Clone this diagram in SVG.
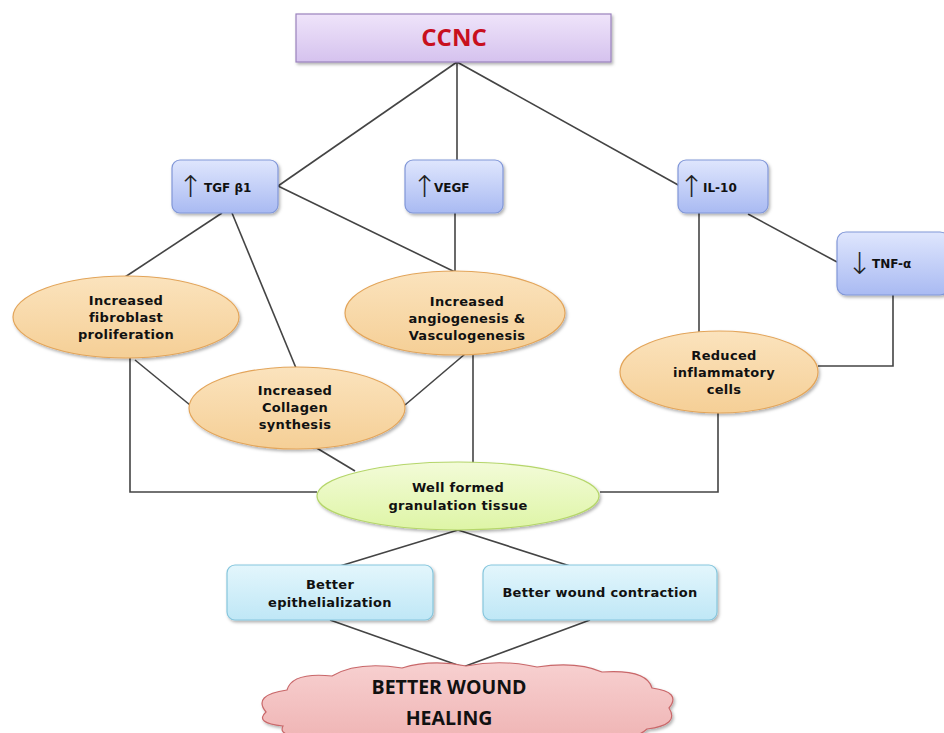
<svg xmlns="http://www.w3.org/2000/svg" width="944" height="733" viewBox="0 0 944 733">
<defs>
<linearGradient id="gPurple" x1="0" y1="0" x2="0" y2="1"><stop offset="0" stop-color="#efe4fa"/><stop offset="1" stop-color="#d5c2ee"/></linearGradient>
<linearGradient id="gBlue" x1="0" y1="0" x2="0" y2="1"><stop offset="0" stop-color="#dfe6fd"/><stop offset="1" stop-color="#a9baf2"/></linearGradient>
<linearGradient id="gOrange" x1="0" y1="0" x2="0" y2="1"><stop offset="0" stop-color="#fbe3bd"/><stop offset="1" stop-color="#f5cf96"/></linearGradient>
<linearGradient id="gGreen" x1="0" y1="0" x2="0" y2="1"><stop offset="0" stop-color="#f3fbd8"/><stop offset="1" stop-color="#def5a6"/></linearGradient>
<linearGradient id="gCyan" x1="0" y1="0" x2="0" y2="1"><stop offset="0" stop-color="#e3f6fc"/><stop offset="1" stop-color="#bfe7f6"/></linearGradient>
<linearGradient id="gPink" x1="0" y1="0" x2="0" y2="1"><stop offset="0" stop-color="#f7d0d0"/><stop offset="1" stop-color="#efb3b3"/></linearGradient>
<filter id="sh" x="-10%" y="-10%" width="130%" height="140%"><feDropShadow dx="1.5" dy="2" stdDeviation="1.5" flood-color="#000" flood-opacity="0.3"/></filter>
</defs>
<style>
.conn line, .conn polyline { stroke:#444; stroke-width:1.6; fill:none; }
.box { stroke-width:1.2; filter:url(#sh); }
.blue { fill:url(#gBlue); stroke:#8197d8; }
.orange { fill:url(#gOrange); stroke:#e3a55a; }
.t { font-family:"DejaVu Sans", Verdana, sans-serif; font-weight:bold; font-size:13px; letter-spacing:0.3px; fill:#111; text-anchor:middle; }
.tl { font-family:"DejaVu Sans", Verdana, sans-serif; font-weight:bold; font-size:12px; fill:#111; }
.arr { font-family:"DejaVu Sans", sans-serif; font-weight:200; font-size:30px; fill:#222; }
</style>
<rect width="944" height="733" fill="#ffffff"/>
<g class="conn" id="connectors">
<line x1="457" y1="62" x2="278" y2="186"/>
<line x1="457" y1="62" x2="457" y2="160"/>
<line x1="457" y1="62" x2="680" y2="186"/>
<line x1="278" y1="186" x2="455" y2="272"/>
<line x1="455" y1="213" x2="455" y2="272"/>
<line x1="222" y1="213" x2="125" y2="277"/>
<line x1="232" y1="213" x2="296" y2="368"/>
<line x1="748" y1="214" x2="837" y2="262"/>
<line x1="699" y1="213" x2="699" y2="332"/>
<polyline points="893,295 893,366 818,366"/>
<polyline points="130,358 130,492 317,492"/>
<line x1="135" y1="360" x2="190" y2="405"/>
<line x1="405" y1="405" x2="465" y2="354"/>
<line x1="315" y1="447" x2="355" y2="471"/>
<line x1="473" y1="354" x2="473" y2="463"/>
<polyline points="718,413 718,492 600,492"/>
<line x1="458" y1="530" x2="340" y2="566"/>
<line x1="458" y1="530" x2="570" y2="566"/>
<line x1="330" y1="620" x2="463" y2="667"/>
<line x1="590" y1="620" x2="463" y2="667"/>
</g>
<g id="ccnc">
<rect class="box" x="296" y="14" width="315" height="48" fill="url(#gPurple)" stroke="#9a82bd"/>
<text x="454" y="46" font-family="'Open Sans', 'DejaVu Sans', sans-serif" font-weight="bold" font-size="24" fill="#c8101e" text-anchor="middle">CCNC</text>
</g>
<g id="tgfb1">
<rect class="box blue" x="172" y="160" width="106" height="53" rx="8"/>
<text class="arr" x="178" y="197">↑</text>
<text class="tl" x="204" y="192">TGF β1</text>
</g>
<g id="vegf">
<rect class="box blue" x="405" y="160" width="98" height="53" rx="8"/>
<text class="arr" x="412" y="197">↑</text>
<text class="tl" x="434" y="192">VEGF</text>
</g>
<g id="il10">
<rect class="box blue" x="678" y="160" width="90" height="53" rx="8"/>
<text class="arr" x="679" y="197">↑</text>
<text class="tl" x="703" y="192">IL-10</text>
</g>
<g id="tnfa">
<rect class="box blue" x="837" y="232" width="112" height="63" rx="9"/>
<text class="arr" x="847" y="274">↓</text>
<text class="tl" x="872" y="268">TNF-α</text>
</g>
<g id="fibroblast">
<ellipse class="box orange" cx="126" cy="317" rx="113" ry="41"/>
<text class="t" x="126" y="305">Increased</text>
<text class="t" x="126" y="322">fibroblast</text>
<text class="t" x="126" y="339">proliferation</text>
</g>
<g id="angiogenesis">
<ellipse class="box orange" cx="455" cy="313" rx="110" ry="42"/>
<text class="t" x="467" y="306">Increased</text>
<text class="t" x="467" y="323">angiogenesis &amp;</text>
<text class="t" x="467" y="340">Vasculogenesis</text>
</g>
<g id="collagen">
<ellipse class="box orange" cx="297" cy="408" rx="108" ry="41"/>
<text class="t" x="295" y="395">Increased</text>
<text class="t" x="295" y="412">Collagen</text>
<text class="t" x="295" y="429">synthesis</text>
</g>
<g id="inflammatory">
<ellipse class="box orange" cx="719" cy="372" rx="99" ry="41"/>
<text class="t" x="724" y="360">Reduced</text>
<text class="t" x="724" y="377">inflammatory</text>
<text class="t" x="724" y="394">cells</text>
</g>
<g id="granulation">
<ellipse class="box" cx="458" cy="496" rx="141" ry="34" fill="url(#gGreen)" stroke="#b5d66a"/>
<text class="t" x="458" y="492">Well formed</text>
<text class="t" x="458" y="510">granulation tissue</text>
</g>
<g id="epithelialization">
<rect class="box" x="227" y="565" width="206" height="55" rx="8" fill="url(#gCyan)" stroke="#86c6dd"/>
<text class="t" x="330" y="589">Better</text>
<text class="t" x="330" y="607">epithelialization</text>
</g>
<g id="contraction">
<rect class="box" x="483" y="565" width="234" height="55" rx="8" fill="url(#gCyan)" stroke="#86c6dd"/>
<text class="t" x="600" y="597">Better wound contraction</text>
</g>
<g id="healing">
<path class="box" fill="url(#gPink)" stroke="#c9686a" d="M 266 712 Q 252 695 287 690 Q 292 672 332 676 Q 357 661 402 668 Q 432 659 466 666 Q 502 659 537 667 Q 577 661 602 672 Q 647 669 652 688 Q 682 692 669 708 Q 680 725 647 729 Q 632 743 597 737 Q 552 746 502 739 Q 452 749 402 739 Q 352 746 322 736 Q 276 739 283 726 Q 254 723 266 712 Z"/>
<text x="449" y="694" font-family="'Open Sans', 'DejaVu Sans', sans-serif" font-weight="bold" font-size="19.5" fill="#111" text-anchor="middle">BETTER WOUND</text>
<text x="449" y="725" font-family="'Open Sans', 'DejaVu Sans', sans-serif" font-weight="bold" font-size="19.5" fill="#111" text-anchor="middle">HEALING</text>
</g>
</svg>
